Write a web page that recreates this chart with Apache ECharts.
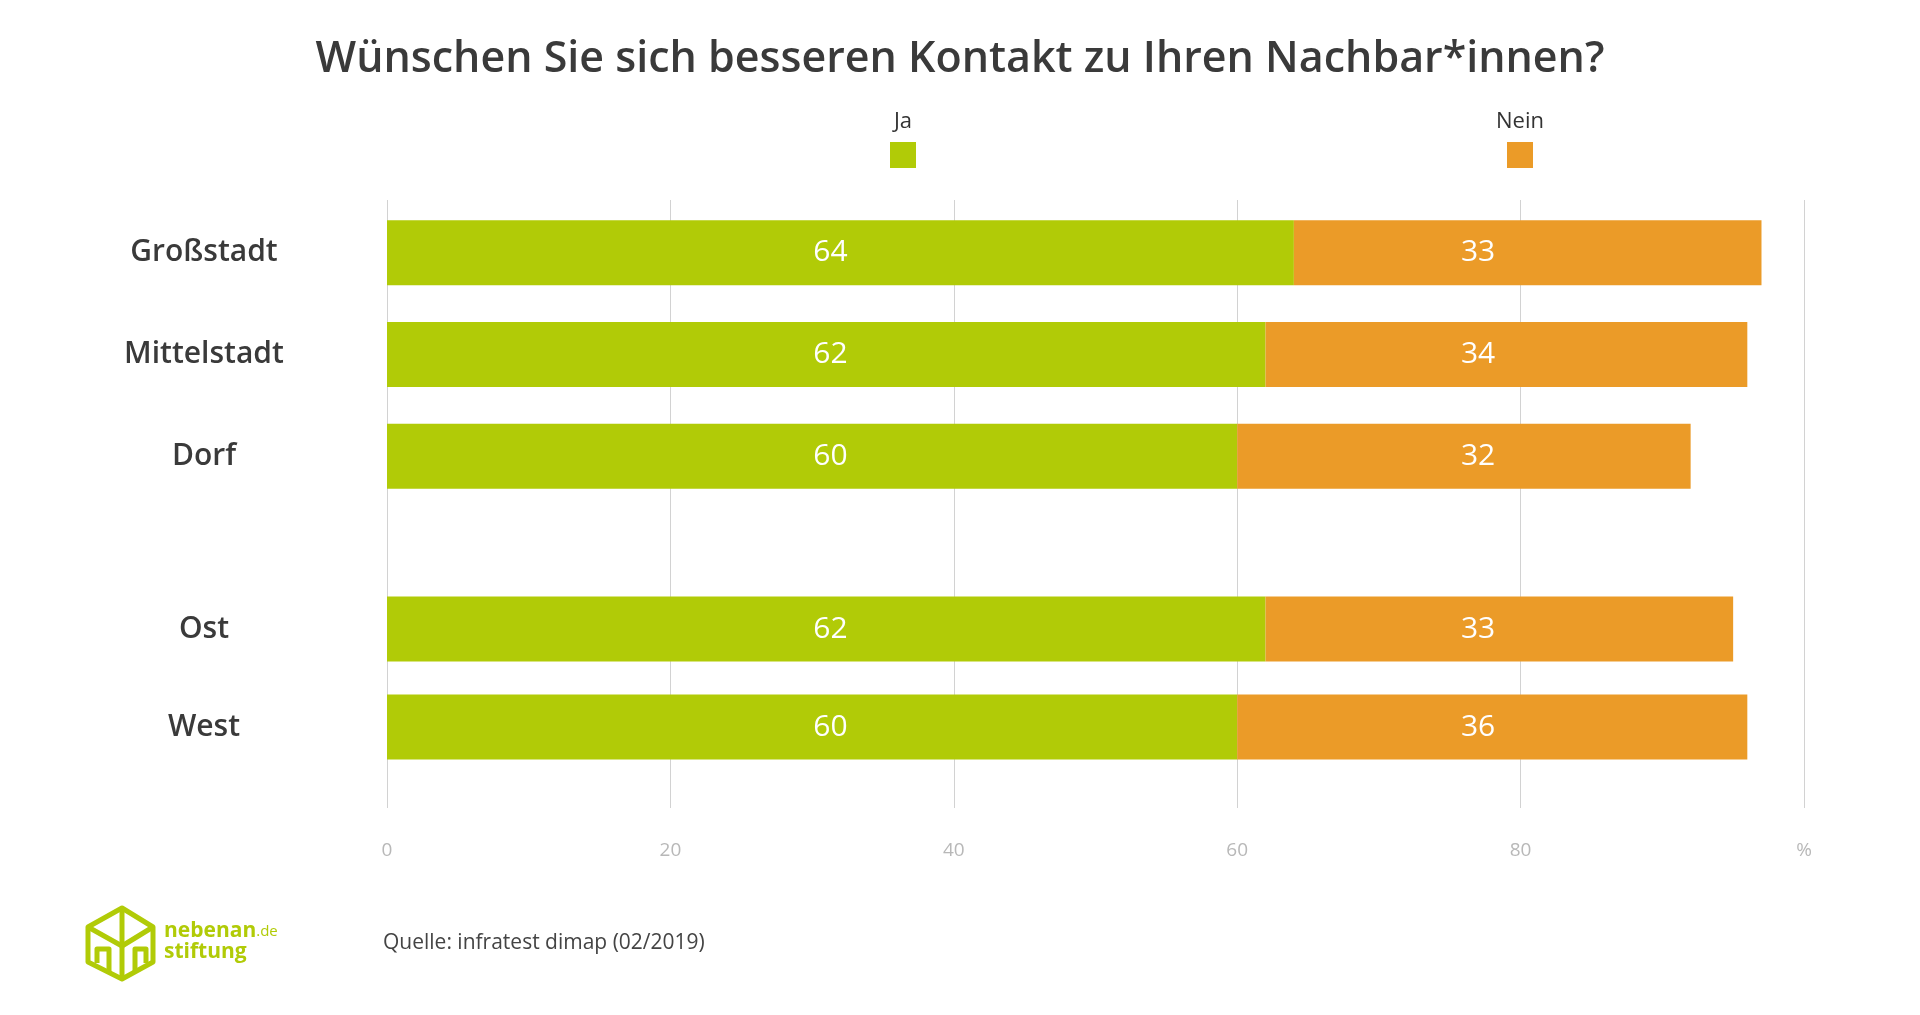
<!DOCTYPE html>
<html>
<head>
<meta charset="utf-8">
<title>Wünschen Sie sich besseren Kontakt zu Ihren Nachbar*innen?</title>
<script src="https://cdn.jsdelivr.net/npm/echarts@6/dist/echarts.min.js"></script>
<style>
  html, body { margin: 0; padding: 0; background: #fff; }
  #chart { width: 1920px; height: 1015px; }
</style>
</head>
<body>
<div id="chart"></div>
<script>
// Daten (in %)
const categoriesTop = ["Großstadt", "Mittelstadt", "Dorf"];
const jaTop = [64, 62, 60];
const neinTop = [33, 34, 32];

const categoriesBottom = ["Ost", "West"];
const jaBottom = [62, 60];
const neinBottom = [33, 36];

const xTickLabels = ["0", "20", "40", "60", "80", "%"];

const green = "#b1cb07";
const orange = "#eb9b28";
const font = "Open Sans";

// Plotbreite 1417px fuer 0..100 -> px pro Prozentpunkt
const pxPerUnit = 1417 / 100;
// Beschriftungen stehen im Original in festen Spalten
const jaLabelAt = 31.3;
const neinLabelAt = 77;

const chart = echarts.init(document.getElementById("chart"));

const hiddenX = (gridIndex) => ({
  type: "value",
  gridIndex,
  min: 0,
  max: 100,
  show: false,
});
const catY = (gridIndex, data) => ({
  type: "category",
  gridIndex,
  data,
  inverse: true,
  axisLine: { show: false },
  axisTick: { show: false },
  axisLabel: {
    margin: 183,
    align: "center",
    color: "#3a3a3a",
    fontFamily: font,
    fontSize: 30,
    fontWeight: 600,
  },
});

// starts: Beginn des Balkensegments (fuer feste Label-Spalte)
const barSeries = (name, gridIndex, data, starts, labelAt, color) => ({
  name,
  type: "bar",
  stack: "g" + gridIndex,
  xAxisIndex: gridIndex,
  yAxisIndex: gridIndex,
  barWidth: 65,
  itemStyle: { color },
  label: {
    show: true,
    color: "#fff",
    fontFamily: font,
    fontSize: 30,
    fontWeight: 500,
    align: "center",
    verticalAlign: "middle",
  },
  data: data.map((v, i) => ({
    value: v,
    label: { position: [(labelAt - starts[i]) * pxPerUnit, "50%"] },
  })),
});

const zeros = (arr) => arr.map(() => 0);

const option = {
  animation: false,
  backgroundColor: "#fff",
  textStyle: { fontFamily: font },
  title: {
    text: "Wünschen Sie sich besseren Kontakt zu Ihren Nachbar*innen?",
    left: "center",
    top: 33,
    textStyle: {
      color: "#3a3a3a",
      fontFamily: font,
      fontSize: 43,
      fontWeight: 600,
    },
  },
  legend: [
    {
      data: ["Ja"],
      left: 890,
      top: 142,
      padding: 0,
      icon: "rect",
      itemWidth: 26,
      itemHeight: 26,
      selectedMode: false,
      formatter: () => "",
    },
    {
      data: ["Nein"],
      left: 1507,
      top: 142,
      padding: 0,
      icon: "rect",
      itemWidth: 26,
      itemHeight: 26,
      selectedMode: false,
      formatter: () => "",
    },
  ],
  grid: [
    // Hintergrund mit Gitterlinien und x-Achse
    { left: 387, right: 116, top: 200, bottom: 207 },
    // Großstadt / Mittelstadt / Dorf
    { left: 387, right: 116, top: 202, bottom: 508 },
    // Ost / West
    { left: 387, right: 116, top: 580, bottom: 239 },
  ],
  xAxis: [
    {
      type: "value",
      gridIndex: 0,
      min: 0,
      max: 100,
      interval: 20,
      axisLine: { show: false },
      axisTick: { show: false },
      splitLine: { show: true, lineStyle: { color: "#d2d2d2", width: 1 } },
      axisLabel: {
        margin: 33,
        color: "#b8b8b8",
        fontFamily: font,
        fontSize: 19,
        formatter: (v) => xTickLabels[Math.round(v / 20)],
      },
    },
    hiddenX(1),
    hiddenX(2),
  ],
  yAxis: [
    { type: "value", gridIndex: 0, show: false },
    catY(1, categoriesTop),
    catY(2, categoriesBottom),
  ],
  series: [
    barSeries("Ja", 1, jaTop, zeros(jaTop), jaLabelAt, green),
    barSeries("Nein", 1, neinTop, jaTop, neinLabelAt, orange),
    barSeries("Ja", 2, jaBottom, zeros(jaBottom), jaLabelAt, green),
    barSeries("Nein", 2, neinBottom, jaBottom, neinLabelAt, orange),
  ],
  graphic: [
    // Legendentexte ueber den Quadraten
    {
      type: "text",
      x: 903,
      y: 122,
      style: { text: "Ja", fill: "#333", font: "22px 'Open Sans'", align: "center", verticalAlign: "middle" },
    },
    {
      type: "text",
      x: 1520,
      y: 122,
      style: { text: "Nein", fill: "#333", font: "22px 'Open Sans'", align: "center", verticalAlign: "middle" },
    },
    // Quelle
    {
      type: "text",
      x: 383,
      y: 943,
      style: {
        text: "Quelle: infratest dimap (02/2019)",
        fill: "#444",
        font: "21px 'Open Sans'",
        verticalAlign: "middle",
      },
    },
    // Logo nebenan.de stiftung
    {
      type: "polygon",
      shape: { points: [[122, 908], [88, 927], [88, 962], [122, 979], [153, 962], [153, 927]] },
      style: { fill: "none", stroke: green, lineWidth: 5, lineJoin: "round" },
    },
    {
      type: "polyline",
      shape: { points: [[88, 927], [122, 946], [153, 927]] },
      style: { fill: "none", stroke: green, lineWidth: 5, lineJoin: "round" },
    },
    {
      type: "polyline",
      shape: { points: [[122, 908], [122, 978]] },
      style: { fill: "none", stroke: green, lineWidth: 5 },
    },
    {
      type: "polyline",
      shape: { points: [[97, 963], [97, 949], [109, 949], [109, 972]] },
      style: { fill: "none", stroke: green, lineWidth: 5, lineJoin: "round" },
    },
    {
      type: "polyline",
      shape: { points: [[135, 972], [135, 949], [146, 949], [146, 963]] },
      style: { fill: "none", stroke: green, lineWidth: 5, lineJoin: "round" },
    },
    {
      type: "text",
      x: 164,
      y: 921,
      style: {
        text: "{b|nebenan}{s|.de}",
        rich: {
          b: { fill: green, font: "bold 21px 'Open Sans'" },
          s: { fill: green, font: "15px 'Open Sans'" },
        },
      },
    },
    {
      type: "text",
      x: 164,
      y: 942,
      style: { text: "stiftung", fill: green, font: "bold 21px 'Open Sans'" },
    },
  ],
};

chart.setOption(option);
</script>
</body>
</html>
